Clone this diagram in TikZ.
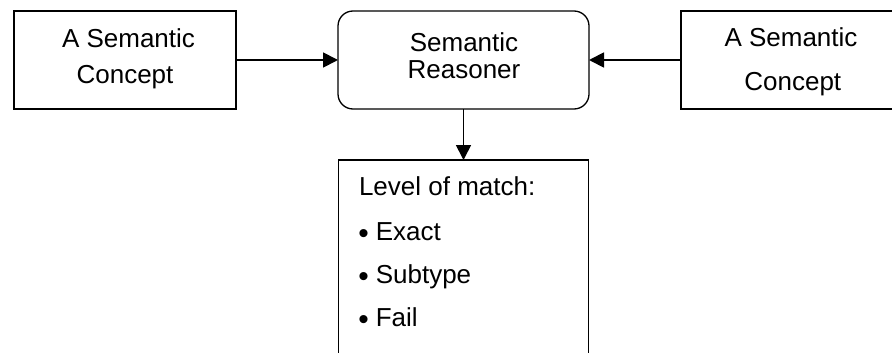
\documentclass[tikz,border=0pt]{standalone}
\usepackage{fontspec}
\setmainfont{Liberation Sans}
\usetikzlibrary{arrows.meta}

% list bullet, a little larger and lower than the font's own
\newcommand{\itembullet}{\raisebox{-3.2pt}{\scalebox{1.15}{•}}\hspace{7pt}}

\begin{document}
\begin{tikzpicture}[x=1pt, y=-1pt,
  every node/.style={font=\fontsize{26}{30}\selectfont, inner sep=0pt, outer sep=0pt},
  box/.style={draw=black, line width=1.3pt, fill=white},
  roundbox/.style={box, rounded corners=15pt},
  txt/.style={anchor=base},
  itemtxt/.style={anchor=base west},
  link/.style={draw=black, line width=1.8pt, -{Triangle[length=15pt, width=15pt]}}
]
  \useasboundingbox (0,0) rectangle (892,353);
  \clip (0,0) rectangle (892,353);
  \fill[white] (0,0) rectangle (892,353);

  % boxes
  \node[box, minimum width=222pt, minimum height=98pt] (left) at (125,60) {};
  \node[roundbox, minimum width=251pt, minimum height=98pt] (reasoner) at (463.5,60) {};
  \node[box, minimum width=222pt, minimum height=98pt] (right) at (792,60) {};
  \node[box, minimum width=250pt, minimum height=210pt] (result) at (463.5,265) {};

  % box texts
  \node[txt] (l1) at (128.5,48) {A Semantic};
  \node[txt] (l2) at (125,84) {Concept};
  \node[txt] (m1) at (464,51.5) {Semantic};
  \node[txt] (m2) at (464,79) {Reasoner};
  \node[txt] (r1) at (791,46.5) {A Semantic};
  \node[txt] (r2) at (792.8,91) {Concept};

  \node[itemtxt] (head) at (359,195) {Level of match:};
  \node[itemtxt] (it1) at (358.3,240) {\itembullet Exact};
  \node[itemtxt] (it2) at (358.3,283.3) {\itembullet Subtype};
  \node[itemtxt] (it3) at (358.3,326.7) {\itembullet Fail};

  % connectors
  \draw[link] (left.east) -- (reasoner.west);
  \draw[link] (right.west) -- (reasoner.east);
  \draw[link] (reasoner.south) -- (result.north);
\end{tikzpicture}
\end{document}
